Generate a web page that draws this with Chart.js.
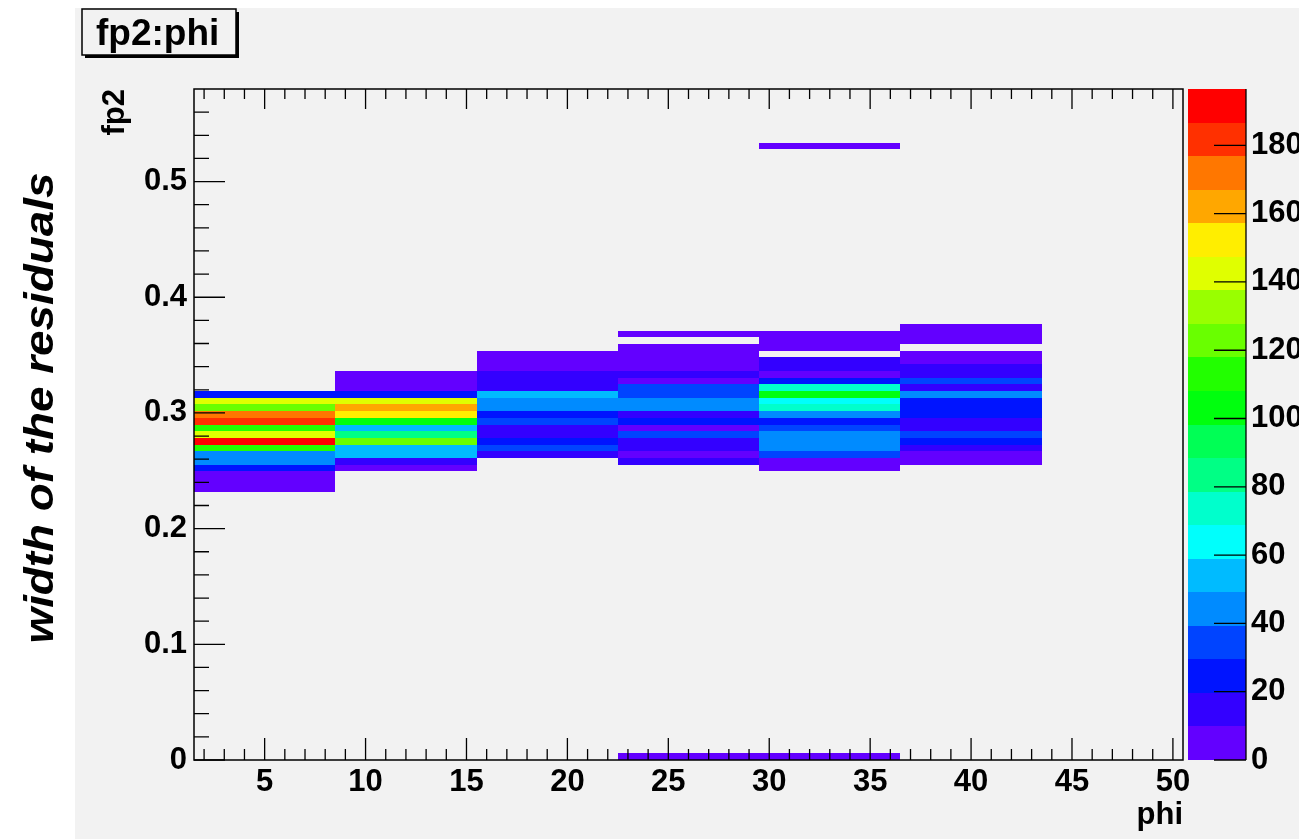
<!DOCTYPE html>
<html>
<head>
<meta charset="utf-8">
<script src="https://cdn.jsdelivr.net/npm/chart.js@4.4.1/dist/chart.umd.min.js"></script>
<style>
  html, body { margin: 0; padding: 0; background: #fff; overflow: hidden; }
  #wrap { width: 1299px; height: 839px; position: relative; }
  #wrap canvas { display: block; }
</style>
</head>
<body>
<div id="wrap"><canvas id="fp2phi"></canvas></div>
<script>
// phi binning (7 bins) and fp2 binning (100 bins over 0..0.58)
const phiEdges = [1.5, 8.5, 15.5, 22.5, 29.5, 36.5, 43.5, 50.5];
const fp2BinWidth = 0.0058;
const fp2Max = 0.58;
const zMax = 196.5;

// first filled fp2 bin of each phi column, contents listed upward from there
const firstBin = [40, 43, 45, 44, 43, 44, 0];
const phiCol1 = [6, 8, 9, 24, 45, 47, 113, 196, 142, 115, 183, 172, 124, 140, 22];
const phiCol2 = [7, 14, 55, 57, 126, 84, 53, 103, 152, 162, 143, 25, 8, 5, 3];
const phiCol3 = [12, 35, 24, 16, 13, 33, 26, 43, 46, 52, 15, 11, 13, 7, 5, 3];
const phiCol4 = [12, 8, 17, 15, 36, 9, 27, 14, 42, 44, 38, 34, 9, 11, 8, 6, 4, 3, 0, 1];
const phiCol5 = [5, 9, 32, 45, 48, 41, 37, 23, 47, 74, 64, 101, 72, 21, 9, 14, 12, 0, 3, 2, 1];
const phiCol6 = [6, 9, 16, 25, 31, 18, 19, 28, 26, 22, 40, 13, 30, 12, 10, 7, 4, 0, 2, 2, 1];
const phiCol7 = [];
const columns = [phiCol1, phiCol2, phiCol3, phiCol4, phiCol5, phiCol6, phiCol7];

// lone entries: the fp2 = 0 bin and the one near 0.53
const zeroBinCounts = [0, 0, 0, 2, 3, 0, 0];
const strayBin = 91;
const strayBinCounts = [0, 0, 0, 0, 1, 0, 0];

const xTicks = [5, 10, 15, 20, 25, 30, 35, 40, 45, 50];
const yTicks = [0, 0.1, 0.2, 0.3, 0.4, 0.5];
const zTicks = [0, 20, 40, 60, 80, 100, 120, 140, 160, 180];
const nContours = 20;

const FONT = '"Liberation Sans", Arial, Helvetica, sans-serif';
const BG = '#f2f2f2';

// ROOT "pretty" palette: 50 hues from violet to red, l = 0.5, s = 1
function hlsChannel(h) {
  if (h > 360) h -= 360;
  if (h < 0) h += 360;
  if (h < 60) return h / 60;
  if (h < 180) return 1;
  if (h < 240) return (240 - h) / 60;
  return 0;
}
function contourColor(band) {
  const idx = Math.floor((band + 0.99) * 50 / nContours);
  const hue = 280 - (idx + 1) * 5.6;
  const r = Math.round(255 * hlsChannel(hue + 120));
  const g = Math.round(255 * hlsChannel(hue));
  const b = Math.round(255 * hlsChannel(hue - 120));
  return `rgb(${r},${g},${b})`;
}
function colorFor(v) {
  const band = Math.min(nContours - 1, Math.floor(v / zMax * nContours));
  return contourColor(band);
}

function cellList() {
  const cells = [];
  columns.forEach((col, i) => {
    col.forEach((v, j) => cells.push({ col: i, bin: firstBin[i] + j, v }));
    if (zeroBinCounts[i]) cells.push({ col: i, bin: 0, v: zeroBinCounts[i] });
    if (strayBinCounts[i]) cells.push({ col: i, bin: strayBin, v: strayBinCounts[i] });
  });
  return cells.filter(c => c.v > 0);
}

const padBackground = {
  id: 'padBackground',
  beforeDraw(chart) {
    const ctx = chart.ctx;
    ctx.save();
    ctx.fillStyle = '#fff';
    ctx.fillRect(0, 0, chart.width, chart.height);
    ctx.fillStyle = BG;
    ctx.fillRect(75, 8, chart.width - 75, chart.height - 8);
    ctx.restore();
  }
};

const colz = {
  id: 'colz',
  beforeDatasetsDraw(chart) {
    const { ctx, scales: { x, y, z } } = chart;
    ctx.save();
    cellList().forEach(c => {
      const x0 = Math.round(x.getPixelForValue(phiEdges[c.col]));
      const x1 = Math.round(x.getPixelForValue(phiEdges[c.col + 1]));
      const y0 = Math.round(y.getPixelForValue(c.bin * fp2BinWidth));
      const y1 = Math.round(y.getPixelForValue((c.bin + 1) * fp2BinWidth));
      ctx.fillStyle = colorFor(c.v);
      ctx.fillRect(x0, y1, x1 - x0, y0 - y1);
    });

    // palette
    const barL = z.left + 5, barR = z.left + 63;
    for (let k = 0; k < nContours; k++) {
      const ya = Math.round(z.getPixelForValue(k * zMax / nContours));
      const yb = Math.round(z.getPixelForValue((k + 1) * zMax / nContours));
      ctx.fillStyle = contourColor(k);
      ctx.fillRect(barL, yb, barR - barL, ya - yb);
    }
    ctx.restore();
  },
  afterDraw(chart) {
    const { ctx, chartArea: a, scales: { x, y, z } } = chart;
    ctx.save();
    ctx.strokeStyle = '#000';
    ctx.lineWidth = 1.5;
    ctx.strokeRect(a.left, a.top, a.right - a.left, a.bottom - a.top);

    ctx.lineWidth = 1.3;
    ctx.beginPath();
    // phi ticks, bottom and top
    for (let v = 2; v <= 50; v++) {
      const px = x.getPixelForValue(v);
      const major = v % 5 === 0;
      ctx.moveTo(px, a.bottom); ctx.lineTo(px, a.bottom - (major ? 22 : 11));
      ctx.moveTo(px, a.top); ctx.lineTo(px, a.top + (major ? 20 : 10));
    }
    // fp2 ticks, left side
    for (let i = 0; i < 29; i++) {
      const py = y.getPixelForValue(i * 0.02);
      ctx.moveTo(a.left, py); ctx.lineTo(a.left + (i % 5 === 0 ? 31 : 15), py);
    }
    // palette axis
    const barR = z.left + 63;
    ctx.moveTo(barR, z.getPixelForValue(zMax)); ctx.lineTo(barR, z.getPixelForValue(0));
    zTicks.forEach(v => {
      const py = z.getPixelForValue(v);
      ctx.moveTo(barR - 32, py); ctx.lineTo(barR, py);
    });
    ctx.stroke();

    // title box with shadow
    ctx.fillStyle = '#000';
    ctx.fillRect(85, 12, 154, 46);
    ctx.fillStyle = BG;
    ctx.fillRect(82, 9, 154, 46);
    ctx.lineWidth = 1.5;
    ctx.strokeRect(82, 9, 154, 46);
    ctx.fillStyle = '#000';
    ctx.font = 'bold 37px ' + FONT;
    ctx.textAlign = 'left';
    ctx.textBaseline = 'alphabetic';
    ctx.fillText('fp2:phi', 96, 45);

    // axis titles
    ctx.font = 'bold 31px ' + FONT;
    ctx.textAlign = 'right';
    ctx.fillText('phi', a.right, 824);
    ctx.save();
    ctx.translate(124, a.top);
    ctx.rotate(-Math.PI / 2);
    ctx.textAlign = 'right';
    ctx.fillText('fp2', 0, 0);
    ctx.restore();

    // outer label
    ctx.save();
    ctx.font = 'italic bold 40px ' + FONT;
    const label = 'width of the residuals';
    const w = ctx.measureText(label).width;
    ctx.translate(53, 408);
    ctx.rotate(-Math.PI / 2);
    ctx.scale(471 / w, 1);
    ctx.textAlign = 'center';
    ctx.fillText(label, 0, 0);
    ctx.restore();
    ctx.restore();
  }
};

const tickFont = { family: FONT, size: 31, weight: 'bold' };

new Chart(document.getElementById('fp2phi'), {
  type: 'scatter',
  data: { datasets: [] },
  options: {
    responsive: true,
    maintainAspectRatio: false,
    animation: false,
    layout: { padding: { left: 0, right: 0, top: 89, bottom: 0 } },
    plugins: { legend: { display: false }, tooltip: { enabled: false } },
    scales: {
      x: {
        type: 'linear', position: 'bottom', min: phiEdges[0], max: phiEdges[phiEdges.length - 1],
        afterBuildTicks: s => { s.ticks = xTicks.map(v => ({ value: v })); },
        afterFit: s => { s.height = 79; },
        grid: { display: false, drawTicks: false },
        border: { display: false },
        ticks: { font: tickFont, color: '#000', padding: 4, maxRotation: 0, autoSkip: false }
      },
      y: {
        type: 'linear', position: 'left', min: 0, max: fp2Max,
        afterBuildTicks: s => { s.ticks = yTicks.map(v => ({ value: v })); },
        afterFit: s => { s.width = 194; },
        grid: { display: false, drawTicks: false },
        border: { display: false },
        ticks: { font: tickFont, color: '#000', padding: 7, autoSkip: false,
          callback: v => (v === 0 ? '0' : v.toFixed(1)) }
      },
      z: {
        type: 'linear', position: 'right', min: 0, max: zMax,
        afterBuildTicks: s => { s.ticks = zTicks.map(v => ({ value: v })); },
        // labels sit past the colour bar; keep the big padding out of the layout
        afterFit: s => { s.width = 116; s.paddingTop = 0; s.paddingBottom = 0; },
        grid: { display: false, drawTicks: false },
        border: { display: false },
        ticks: { font: tickFont, color: '#000', padding: 68, autoSkip: false }
      }
    }
  },
  plugins: [padBackground, colz]
});
</script>
</body>
</html>
